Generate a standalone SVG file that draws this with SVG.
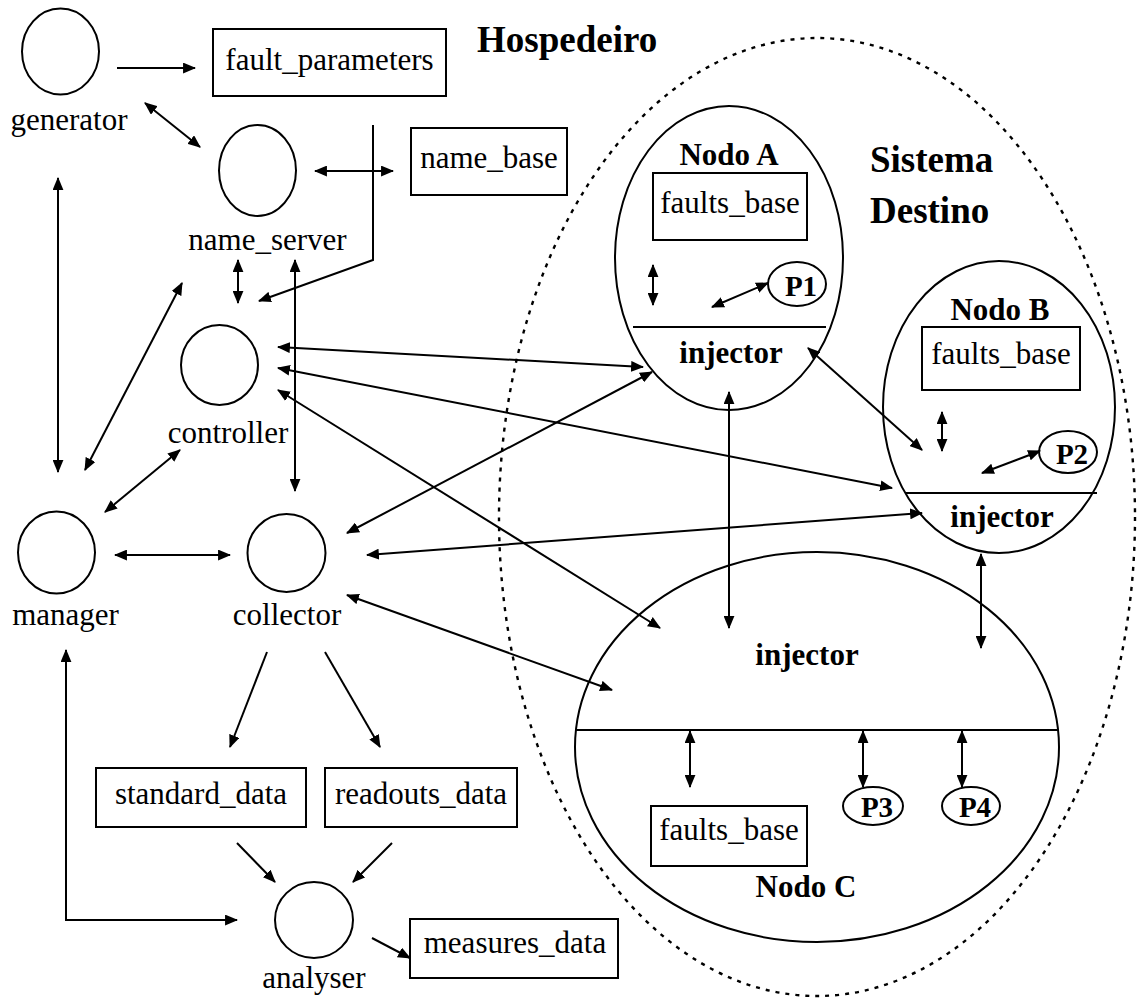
<svg xmlns="http://www.w3.org/2000/svg" width="1137" height="1001" viewBox="0 0 1137 1001">
  <defs>
    <marker id="ah" viewBox="0 0 12 10" refX="11" refY="5" markerWidth="13" markerHeight="11" markerUnits="userSpaceOnUse" orient="auto-start-reverse">
      <path d="M0,0 L12,5 L0,10 Z" fill="#000"/>
    </marker>
    <style>
      .ln { stroke:#000; stroke-width:2; fill:none; }
      .one { stroke:#000; stroke-width:2; fill:none; marker-end:url(#ah); }
      .two { stroke:#000; stroke-width:2; fill:none; marker-start:url(#ah); marker-end:url(#ah); }
      .shape { stroke:#000; stroke-width:2; fill:none; }
    </style>
  </defs>
  <rect width="1137" height="1001" fill="#fff"/>

  <!-- target system boundary -->
  <ellipse cx="817" cy="517" rx="318" ry="479" fill="none" stroke="#000" stroke-width="2.4" stroke-dasharray="4,6"/>

  <!-- section titles -->
  <g font-family="Liberation Serif" font-weight="bold" font-size="37">
    <text x="477" y="52">Hospedeiro</text>
    <text x="870" y="172">Sistema</text>
    <text x="870" y="223">Destino</text>
  </g>

  <!-- host processes and stores -->
  <g id="generator">
    <ellipse class="shape" cx="60.5" cy="51.5" rx="38.5" ry="43"/>
    <text font-family="Liberation Serif" font-size="31" text-anchor="middle" x="69" y="130">generator</text>
  </g>
  <g id="fault_parameters">
    <rect class="shape" x="213" y="29" width="233" height="67"/>
    <text font-family="Liberation Serif" font-size="31" text-anchor="middle" x="329.5" y="70">fault_parameters</text>
  </g>
  <g id="name_server">
    <ellipse class="shape" cx="257.5" cy="170.5" rx="38.5" ry="45.5"/>
    <text font-family="Liberation Serif" font-size="31" text-anchor="middle" x="267.5" y="250">name_server</text>
  </g>
  <g id="name_base">
    <rect class="shape" x="411" y="128" width="156" height="67"/>
    <text font-family="Liberation Serif" font-size="31" text-anchor="middle" x="489" y="168">name_base</text>
  </g>
  <g id="controller">
    <ellipse class="shape" cx="219.5" cy="365" rx="38.5" ry="40"/>
    <text font-family="Liberation Serif" font-size="31" text-anchor="middle" x="228" y="443">controller</text>
  </g>
  <g id="manager">
    <ellipse class="shape" cx="56.5" cy="552.5" rx="38.5" ry="41"/>
    <text font-family="Liberation Serif" font-size="31" text-anchor="middle" x="65.5" y="625">manager</text>
  </g>
  <g id="collector">
    <ellipse class="shape" cx="286.5" cy="553" rx="39" ry="39"/>
    <text font-family="Liberation Serif" font-size="31" text-anchor="middle" x="287" y="625">collector</text>
  </g>
  <g id="standard_data">
    <rect class="shape" x="96" y="768" width="210" height="59"/>
    <text font-family="Liberation Serif" font-size="31" text-anchor="middle" x="201" y="804">standard_data</text>
  </g>
  <g id="readouts_data">
    <rect class="shape" x="325" y="768" width="192" height="59"/>
    <text font-family="Liberation Serif" font-size="31" text-anchor="middle" x="421" y="804">readouts_data</text>
  </g>
  <g id="analyser">
    <ellipse class="shape" cx="314" cy="920" rx="39" ry="38"/>
    <text font-family="Liberation Serif" font-size="31" text-anchor="middle" x="314" y="988">analyser</text>
  </g>
  <g id="measures_data">
    <rect class="shape" x="410" y="919" width="208" height="59"/>
    <text font-family="Liberation Serif" font-size="31" text-anchor="middle" x="515" y="953">measures_data</text>
  </g>

  <!-- Nodo A -->
  <g id="nodo_a">
    <ellipse class="shape" cx="729" cy="258" rx="114" ry="152"/>
    <text font-family="Liberation Serif" font-weight="bold" font-size="31" text-anchor="middle" x="729" y="165">Nodo A</text>
    <rect class="shape" x="653" y="173" width="154" height="67"/>
    <text font-family="Liberation Serif" font-size="31" text-anchor="middle" x="730" y="213">faults_base</text>
    <ellipse class="shape" cx="797" cy="284" rx="29" ry="22"/>
    <text font-family="Liberation Serif" font-weight="bold" font-size="29" text-anchor="middle" x="801" y="296">P1</text>
    <line class="ln" x1="633" y1="327" x2="826" y2="327"/>
    <text font-family="Liberation Serif" font-weight="bold" font-size="31" text-anchor="middle" x="731" y="363">injector</text>
    <line class="two" x1="653" y1="265" x2="653" y2="305"/>
    <line class="two" x1="712" y1="307" x2="768" y2="283"/>
  </g>

  <!-- Nodo B -->
  <g id="nodo_b">
    <ellipse class="shape" cx="999" cy="407" rx="116" ry="146"/>
    <text font-family="Liberation Serif" font-weight="bold" font-size="31" text-anchor="middle" x="1000" y="320">Nodo B</text>
    <rect class="shape" x="922" y="327" width="158" height="63"/>
    <text font-family="Liberation Serif" font-size="31" text-anchor="middle" x="1001" y="364">faults_base</text>
    <ellipse class="shape" cx="1068" cy="452" rx="29" ry="21"/>
    <text font-family="Liberation Serif" font-weight="bold" font-size="29" text-anchor="middle" x="1072" y="464">P2</text>
    <line class="ln" x1="905" y1="493" x2="1097" y2="493"/>
    <text font-family="Liberation Serif" font-weight="bold" font-size="31" text-anchor="middle" x="1002" y="527">injector</text>
    <line class="two" x1="942" y1="412" x2="942" y2="451"/>
    <line class="two" x1="982" y1="473" x2="1040" y2="451"/>
  </g>

  <!-- Nodo C -->
  <g id="nodo_c">
    <ellipse class="shape" cx="817" cy="747" rx="242" ry="195"/>
    <text font-family="Liberation Serif" font-weight="bold" font-size="31" text-anchor="middle" x="807" y="665">injector</text>
    <line class="ln" x1="575" y1="730" x2="1058" y2="730"/>
    <line class="two" x1="690" y1="731" x2="690" y2="787"/>
    <line class="two" x1="863" y1="731" x2="863" y2="787"/>
    <line class="two" x1="962" y1="731" x2="962" y2="787"/>
    <ellipse class="shape" cx="873" cy="806" rx="30" ry="19"/>
    <text font-family="Liberation Serif" font-weight="bold" font-size="29" text-anchor="middle" x="877" y="817">P3</text>
    <ellipse class="shape" cx="971" cy="806" rx="29" ry="19"/>
    <text font-family="Liberation Serif" font-weight="bold" font-size="29" text-anchor="middle" x="975" y="817">P4</text>
    <rect class="shape" x="651" y="806" width="156" height="60"/>
    <text font-family="Liberation Serif" font-size="31" text-anchor="middle" x="729" y="840">faults_base</text>
    <text font-family="Liberation Serif" font-weight="bold" font-size="31" text-anchor="middle" x="806" y="897">Nodo C</text>
  </g>

  <!-- connectors -->
  <g id="connectors">
    <line class="one" x1="117" y1="68" x2="195" y2="68"/>
    <line class="two" x1="145" y1="103" x2="200" y2="147"/>
    <line class="two" x1="315" y1="171" x2="393" y2="171"/>
    <polyline class="one" points="373,125 373,260 259,301"/>
    <line class="two" x1="238" y1="260" x2="238" y2="303"/>
    <line class="two" x1="295" y1="260" x2="295" y2="491"/>
    <line class="two" x1="182" y1="283" x2="85" y2="470"/>
    <line class="two" x1="58" y1="178" x2="58" y2="472"/>
    <line class="two" x1="180" y1="450" x2="105" y2="512"/>
    <line class="two" x1="115" y1="555" x2="230" y2="555"/>

    <line class="two" x1="278" y1="347" x2="643" y2="367"/>
    <line class="two" x1="278" y1="368" x2="892" y2="488"/>
    <line class="two" x1="278" y1="390" x2="660" y2="628"/>
    <line class="two" x1="347" y1="533" x2="652" y2="372"/>
    <line class="two" x1="367" y1="555" x2="922" y2="513"/>
    <line class="two" x1="347" y1="595" x2="612" y2="690"/>

    <line class="two" x1="729" y1="392" x2="729" y2="628"/>
    <line class="two" x1="808" y1="348" x2="922" y2="450"/>
    <line class="two" x1="981" y1="554" x2="981" y2="648"/>

    <line class="one" x1="267" y1="652" x2="230" y2="747"/>
    <line class="one" x1="325" y1="652" x2="380" y2="747"/>
    <line class="one" x1="237" y1="843" x2="275" y2="882"/>
    <line class="one" x1="392" y1="843" x2="353" y2="882"/>
    <polyline class="two" points="66,650 66,920 237,920"/>
    <line class="one" x1="372" y1="938" x2="410" y2="958"/>
  </g>
</svg>
